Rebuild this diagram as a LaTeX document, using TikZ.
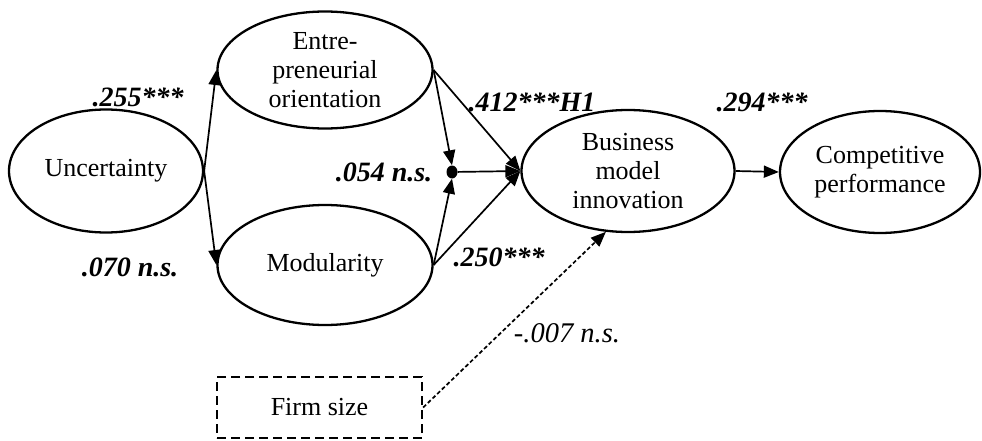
\documentclass[tikz,border=0pt]{standalone}
\usepackage{fontspec}
\setmainfont{Liberation Serif}
\usetikzlibrary{shapes.geometric,arrows.meta}
\tikzset{
  ell/.style={ellipse, draw, line width=2.3pt, inner sep=0pt, align=center,
    font=\fontsize{26}{29}\selectfont},
  conn/.style={line width=1.7pt, -{Triangle[length=15pt,width=12pt]}},
  coef/.style={font=\fontsize{28}{30}\selectfont\bfseries\itshape, inner sep=0pt},
  coefit/.style={font=\fontsize{28.5}{30}\selectfont\itshape, inner sep=0pt}
}
\begin{document}
\begin{tikzpicture}[x=1pt,y=-1pt]
\useasboundingbox (0,0) rectangle (982,441);
\node[ell, minimum width=194pt, minimum height=123pt] (unc) at (106,171) {Uncertainty};
\node[ell, minimum width=215pt, minimum height=117pt] (eo) at (325,70) {Entre-\\preneurial\\orientation};
\node[ell, minimum width=215pt, minimum height=120pt] (mod) at (325,265) {Modularity};
\node[ell, minimum width=213pt, minimum height=122pt] (bmi) at (628,171) {Business\\model\\innovation};
\node[ell, minimum width=200pt, minimum height=122pt] (cp) at (880,172) {Competitive\\performance};
\node[ellipse, fill, inner sep=0pt, minimum width=11pt, minimum height=13pt] (dot) at (452,172) {};
\node[draw, dash pattern=on 9pt off 5pt, line width=2.3pt, minimum width=205pt, minimum height=61pt,
  inner sep=0pt, font=\fontsize{26}{29}\selectfont] (firm) at (319.5,407.5) {Firm size};

\draw[conn] (unc.east) -- (eo.west);
\draw[conn] (unc.east) -- (mod.west);
\draw[conn] (eo.east) -- (dot.north);
\draw[conn] (mod.east) -- (dot.south);
\draw[conn] (eo.east) -- (bmi.west);
\draw[conn] (mod.east) -- (bmi.west);
\draw[conn] (dot) -- (bmi.west);
\draw[conn] (bmi.east) -- (cp.west);
\draw[conn, dash pattern=on 4pt off 2.5pt] (firm.east) -- (bmi.-110);

\node[coef] (l1) at (138,97) {.255***};
\node[coef] (l2) at (130,267) {.070 n.s.};
\node[coef] (l3) at (384,172) {.054 n.s.};
\node[coef] (l4) at (532,102) {.412***H1};
\node[coef] (l5) at (499,257) {.250***};
\node[coef] (l6) at (762,102) {.294***};
\node[coefit] (l7) at (567,333) {-.007 n.s.};
\end{tikzpicture}
\end{document}
